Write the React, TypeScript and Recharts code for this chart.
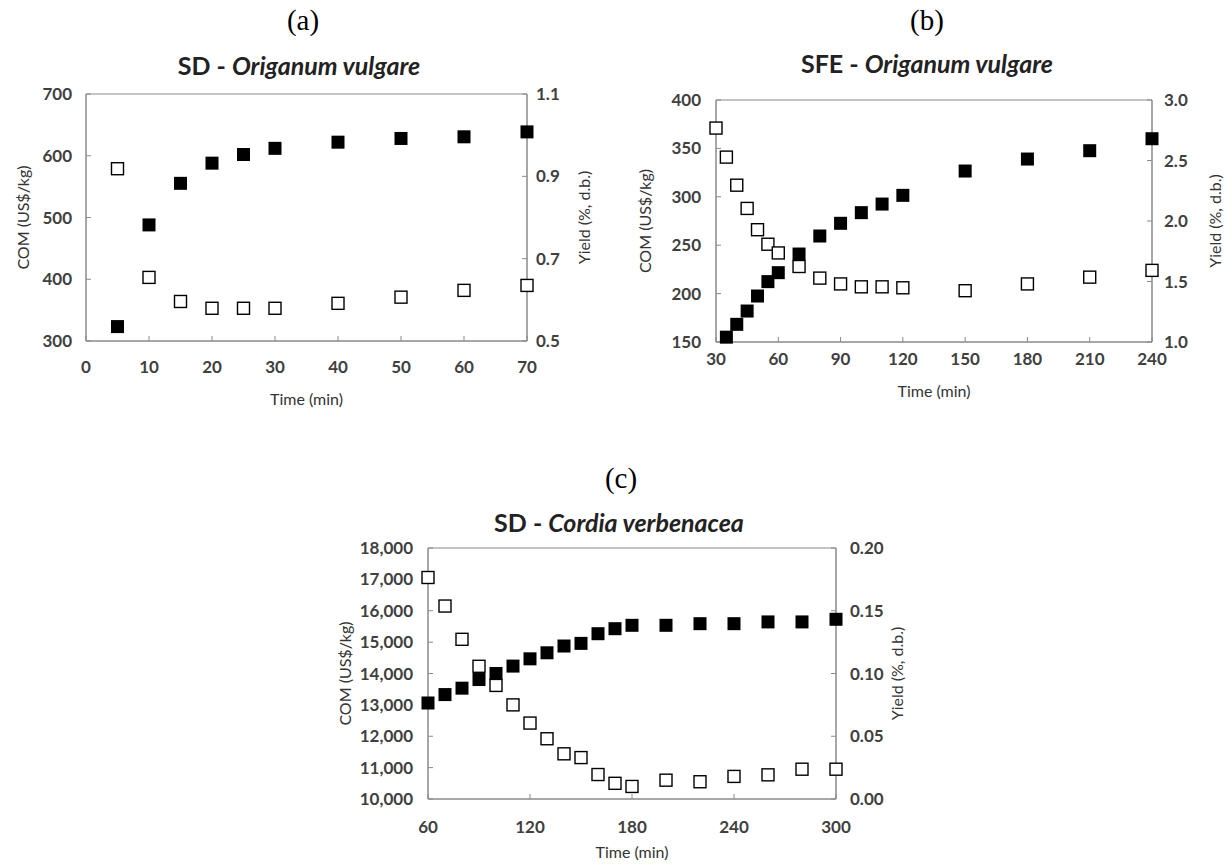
import React from 'react';
import { ScatterChart, Scatter, XAxis, YAxis, ReferenceArea } from 'recharts';

// (a) SD - Origanum vulgare
const aTime = [5, 10, 15, 20, 25, 30, 40, 50, 60, 70];
const aCom = [579, 403, 364, 353, 353, 353, 361, 371, 382, 390];
const aYield = [0.535, 0.782, 0.883, 0.932, 0.953, 0.968, 0.983, 0.992, 0.996, 1.008];

// (b) SFE - Origanum vulgare
const bComTime = [30, 35, 40, 45, 50, 55, 60, 70, 80, 90, 100, 110, 120, 150, 180, 210, 240];
const bCom = [371, 341, 312, 288, 266, 251, 242, 228, 216, 210, 207, 207, 206, 203, 210, 217, 224];
const bYieldTime = [35, 40, 45, 50, 55, 60, 70, 80, 90, 100, 110, 120, 150, 180, 210, 240];
const bYield = [1.04, 1.146, 1.256, 1.38, 1.499, 1.573, 1.727, 1.876, 1.981, 2.069, 2.14, 2.212, 2.413, 2.512, 2.581, 2.68];

// (c) SD - Cordia verbenacea
const cTime = [60, 70, 80, 90, 100, 110, 120, 130, 140, 150, 160, 170, 180, 200, 220, 240, 260, 280, 300];
const cCom = [17060, 16150, 15090, 14230, 13620, 13000, 12420, 11920, 11440, 11320, 10780, 10500, 10400, 10600, 10550, 10720, 10770, 10950, 10950];
const cYield = [0.0765, 0.0832, 0.0883, 0.0952, 0.1, 0.1059, 0.1117, 0.1165, 0.1219, 0.124, 0.1317, 0.1357, 0.1384, 0.1384, 0.1397, 0.1397, 0.1411, 0.1411, 0.1432];

const aXTicks = [0, 10, 20, 30, 40, 50, 60, 70];
const aComTicks = [300, 400, 500, 600, 700];
const aYieldTicks = [0.5, 0.7, 0.9, 1.1];
const bXTicks = [30, 60, 90, 120, 150, 180, 210, 240];
const bComTicks = [150, 200, 250, 300, 350, 400];
const bYieldTicks = [1.0, 1.5, 2.0, 2.5, 3.0];
const cXTicks = [60, 120, 180, 240, 300];
const cComTicks = [10000, 11000, 12000, 13000, 14000, 15000, 16000, 17000, 18000];
const cYieldTicks = [0, 0.05, 0.1, 0.15, 0.2];

const toPts = (xs, ys) => ys.map((y, i) => ({ x: xs[i], y }));

const AXIS = '#8a8a8a';
const tickStyle = { fill: '#404040', fontSize: 17, fontWeight: 700, fontFamily: 'Lato' };
const labelStyle = { fill: '#333', fontSize: 16, fontFamily: 'Lato', textAnchor: 'middle' };

const FilledSquare = (props) => {
  const { cx, cy } = props;
  if (cx == null || cy == null) return null;
  return <rect x={cx - 6.5} y={cy - 6.5} width={13} height={13} fill="#000" />;
};

const OpenSquare = (props) => {
  const { cx, cy } = props;
  if (cx == null || cy == null) return null;
  return <rect x={cx - 6} y={cy - 6} width={12} height={12} fill="#fff" stroke="#000" strokeWidth={1.4} />;
};

const Caption = ({ x, y, size, serif, children }) => (
  <div
    style={{
      position: 'absolute',
      left: x - 200,
      top: y - 18,
      width: 400,
      height: 36,
      lineHeight: '36px',
      textAlign: 'center',
      fontSize: size,
      fontFamily: serif ? '"Liberation Serif", "Times New Roman", serif' : 'Lato',
      fontWeight: serif ? 400 : 700,
      color: serif ? '#000' : '#222',
      whiteSpace: 'nowrap',
    }}
  >
    {children}
  </div>
);

const Panel = ({ left, top, width, height, marginTop, leftW, rightW, xH, xDomain, xTicks, comDomain, comTicks, comFmt,
  yieldDomain, yieldTicks, yieldFmt, comData, yieldData, xTickM, leftM, rightM, comOff, yieldOff, timeOff }) => (
  <div style={{ position: 'absolute', left, top }}>
    <ScatterChart width={width} height={height} margin={{ top: marginTop, right: 0, bottom: 0, left: 0 }}>
      <XAxis
        type="number"
        dataKey="x"
        domain={xDomain}
        ticks={xTicks}
        interval={0}
        height={xH}
        axisLine={{ stroke: AXIS }}
        tickLine={{ stroke: AXIS }}
        tickSize={-5}
        tickMargin={xTickM}
        tick={tickStyle}
        label={{ value: 'Time (min)', position: 'insideBottom', offset: timeOff, style: labelStyle }}
      />
      <YAxis
        yAxisId="com"
        type="number"
        dataKey="y"
        domain={comDomain}
        ticks={comTicks}
        interval={0}
        width={leftW}
        tickFormatter={comFmt}
        axisLine={{ stroke: AXIS }}
        tickLine={{ stroke: AXIS }}
        tickSize={-5}
        tickMargin={leftM}
        tick={tickStyle}
        label={{ value: 'COM (US$/kg)', angle: -90, position: 'insideLeft', offset: comOff, style: labelStyle }}
      />
      <YAxis
        yAxisId="yield"
        orientation="right"
        type="number"
        dataKey="y"
        domain={yieldDomain}
        ticks={yieldTicks}
        interval={0}
        width={rightW}
        tickFormatter={yieldFmt}
        axisLine={{ stroke: AXIS }}
        tickLine={{ stroke: AXIS }}
        tickSize={-5}
        tickMargin={rightM}
        tick={tickStyle}
        label={{ value: 'Yield (%, d.b.)', angle: -90, position: 'insideRight', offset: yieldOff, style: labelStyle }}
      />
      <ReferenceArea
        yAxisId="com"
        x1={xDomain[0]}
        x2={xDomain[1]}
        y1={comDomain[0]}
        y2={comDomain[1]}
        fill="none"
        stroke={AXIS}
        strokeWidth={1}
      />
      <Scatter data={comData} yAxisId="com" shape={OpenSquare} isAnimationActive={false} />
      <Scatter data={yieldData} yAxisId="yield" shape={FilledSquare} isAnimationActive={false} />
    </ScatterChart>
  </div>
);

export default function App() {
  return (
    <div style={{ position: 'absolute', left: 0, top: 0, width: 1232, height: 865, background: '#fff' }}>
      <Caption x={303} y={20} size={29} serif>(a)</Caption>
      <Caption x={299} y={65} size={25}>SD - <i>Origanum vulgare</i></Caption>
      <Panel
        left={0} top={0} width={620} height={420} marginTop={94} leftW={86} rightW={93} xH={79}
        xDomain={[0, 70]} xTicks={aXTicks}
        comDomain={[300, 700]} comTicks={aComTicks} comFmt={(v) => String(v)}
        yieldDomain={[0.5, 1.1]} yieldTicks={aYieldTicks} yieldFmt={(v) => v.toFixed(1)}
        comData={toPts(aTime, aCom)} yieldData={toPts(aTime, aYield)}
        xTickM={25} leftM={19} rightM={14} comOff={23} yieldOff={36} timeOff={15}
      />

      <Caption x={927} y={20} size={29} serif>(b)</Caption>
      <Caption x={927} y={63} size={25}>SFE - <i>Origanum vulgare</i></Caption>
      <Panel
        left={620} top={0} width={612} height={420} marginTop={100} leftW={96} rightW={80} xH={78}
        xDomain={[30, 240]} xTicks={bXTicks}
        comDomain={[150, 400]} comTicks={bComTicks} comFmt={(v) => String(v)}
        yieldDomain={[1, 3]} yieldTicks={bYieldTicks} yieldFmt={(v) => v.toFixed(1)}
        comData={toPts(bComTime, bCom)} yieldData={toPts(bYieldTime, bYield)}
        xTickM={16} leftM={20} rightM={17} comOff={25} yieldOff={17} timeOff={23}
      />

      <Caption x={621} y={478} size={29} serif>(c)</Caption>
      <Caption x={619} y={522} size={25}>SD - <i>Cordia verbenacea</i></Caption>
      <Panel
        left={320} top={440} width={620} height={425} marginTop={108} leftW={108} rightW={104} xH={66}
        xDomain={[60, 300]} xTicks={cXTicks}
        comDomain={[10000, 18000]} comTicks={cComTicks} comFmt={(v) => v.toLocaleString('en-US')}
        yieldDomain={[0, 0.2]} yieldTicks={cYieldTicks} yieldFmt={(v) => v.toFixed(2)}
        comData={toPts(cTime, cCom)} yieldData={toPts(cTime, cYield)}
        xTickM={27} leftM={20} rightM={19} comOff={25} yieldOff={43} timeOff={7}
      />
    </div>
  );
}
